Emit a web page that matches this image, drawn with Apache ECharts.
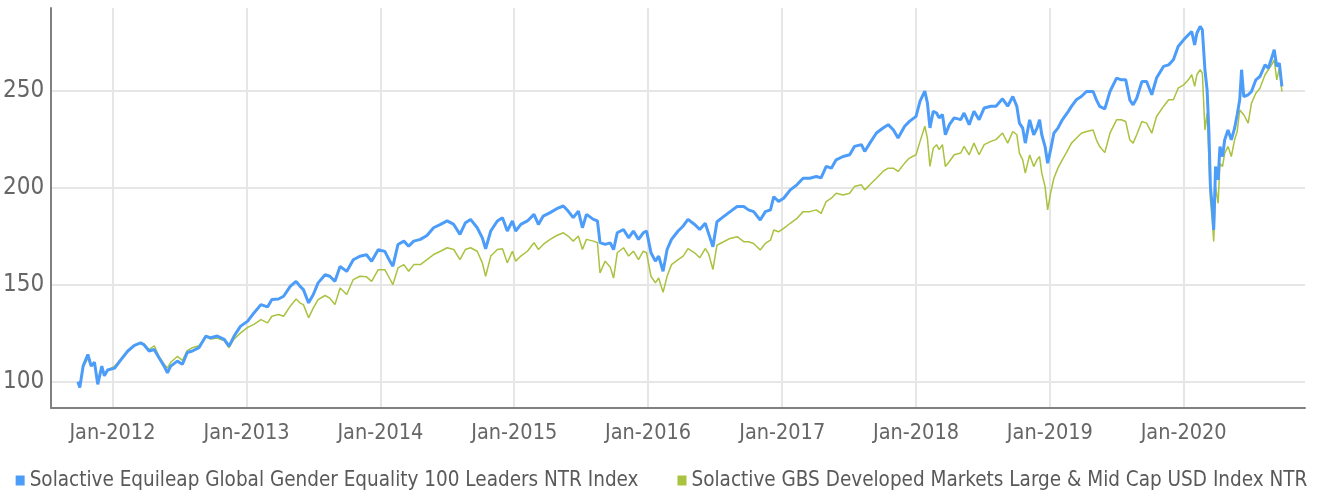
<!DOCTYPE html>
<html lang="en" style="height: 100%">
  <head>
    <meta charset="utf-8" />
    <style>
      html, body { margin: 0; padding: 0; background: #fff; }
      #container { width: 1323px; height: 493px; }
    </style>
  </head>
  <body>
    <div id="container"></div>
    <script type="text/javascript" src="https://cdn.jsdelivr.net/npm/echarts@6/dist/echarts.min.js"></script>
    <script type="text/javascript">
      var seriesNames = [
        "Solactive Equileap Global Gender Equality 100 Leaders NTR Index",
        "Solactive GBS Developed Markets Large & Mid Cap USD Index NTR",
      ];

      var dates = [
        "2011-09-29", "2011-10-04", "2011-10-13", "2011-10-26", "2011-11-04", "2011-11-13", "2011-11-22", "2011-12-03", "2011-12-10", "2011-12-19",
        "2012-01-07", "2012-01-25", "2012-02-12", "2012-03-01", "2012-03-18", "2012-03-27", "2012-04-10", "2012-04-24", "2012-05-07", "2012-05-21",
        "2012-05-30", "2012-06-08", "2012-06-26", "2012-07-10", "2012-07-23", "2012-08-06", "2012-08-24", "2012-09-12", "2012-09-25", "2012-10-13",
        "2012-11-01", "2012-11-14", "2012-11-28", "2012-12-15", "2013-01-04", "2013-01-21", "2013-02-09", "2013-02-27", "2013-03-11", "2013-03-29",
        "2013-04-12", "2013-04-30", "2013-05-16", "2013-05-27", "2013-06-05", "2013-06-19", "2013-07-02", "2013-07-15", "2013-08-03", "2013-08-16",
        "2013-08-30", "2013-09-13", "2013-10-01", "2013-10-19", "2013-11-06", "2013-11-24", "2013-12-08", "2013-12-26", "2014-01-13", "2014-01-27",
        "2014-02-04", "2014-02-18", "2014-03-06", "2014-03-19", "2014-04-02", "2014-04-20", "2014-05-08", "2014-05-26", "2014-06-14", "2014-07-02",
        "2014-07-20", "2014-08-06", "2014-08-21", "2014-09-04", "2014-09-22", "2014-10-06", "2014-10-15", "2014-10-29", "2014-11-16", "2014-11-30",
        "2014-12-13", "2014-12-27", "2015-01-05", "2015-01-19", "2015-02-06", "2015-02-24", "2015-03-08", "2015-03-21", "2015-04-09", "2015-04-27",
        "2015-05-15", "2015-05-28", "2015-06-11", "2015-06-25", "2015-07-06", "2015-07-17", "2015-08-05", "2015-08-16", "2015-08-23", "2015-09-06",
        "2015-09-20", "2015-09-29", "2015-10-09", "2015-10-26", "2015-11-09", "2015-11-22", "2015-12-06", "2015-12-19", "2015-12-28", "2016-01-09",
        "2016-01-21", "2016-01-30", "2016-02-11", "2016-02-22", "2016-03-05", "2016-03-23", "2016-04-06", "2016-04-19", "2016-05-07", "2016-05-21",
        "2016-06-05", "2016-06-14", "2016-06-26", "2016-07-07", "2016-07-25", "2016-08-12", "2016-08-31", "2016-09-18", "2016-10-01", "2016-10-15",
        "2016-11-02", "2016-11-16", "2016-11-30", "2016-12-09", "2016-12-22", "2017-01-05", "2017-01-23", "2017-02-10", "2017-02-27", "2017-03-17",
        "2017-04-04", "2017-04-17", "2017-05-01", "2017-05-15", "2017-05-28", "2017-06-16", "2017-07-04", "2017-07-17", "2017-08-05", "2017-08-14",
        "2017-08-28", "2017-09-15", "2017-10-03", "2017-10-17", "2017-10-31", "2017-11-13", "2017-12-01", "2017-12-14", "2018-01-01", "2018-01-12",
        "2018-01-25", "2018-02-01", "2018-02-08", "2018-02-17", "2018-02-26", "2018-03-05", "2018-03-14", "2018-03-22", "2018-04-02", "2018-04-15",
        "2018-05-03", "2018-05-12", "2018-05-26", "2018-06-08", "2018-06-22", "2018-07-06", "2018-07-24", "2018-08-07", "2018-08-25", "2018-09-08",
        "2018-09-22", "2018-10-03", "2018-10-10", "2018-10-19", "2018-10-26", "2018-11-07", "2018-11-18", "2018-11-27", "2018-12-04", "2018-12-10",
        "2018-12-19", "2018-12-26", "2019-01-03", "2019-01-12", "2019-01-23", "2019-02-04", "2019-02-17", "2019-03-01", "2019-03-14", "2019-03-28",
        "2019-04-11", "2019-04-29", "2019-05-08", "2019-05-17", "2019-05-31", "2019-06-14", "2019-07-02", "2019-07-15", "2019-07-27", "2019-08-07",
        "2019-08-16", "2019-08-26", "2019-09-09", "2019-09-22", "2019-10-06", "2019-10-19", "2019-11-07", "2019-11-21", "2019-12-04", "2019-12-17",
        "2020-01-01", "2020-01-14", "2020-01-23", "2020-01-31", "2020-02-06", "2020-02-15", "2020-02-21", "2020-02-28", "2020-03-05", "2020-03-10",
        "2020-03-14", "2020-03-19", "2020-03-23", "2020-03-28", "2020-04-04", "2020-04-09", "2020-04-16", "2020-04-22", "2020-05-01", "2020-05-10",
        "2020-05-19", "2020-05-26", "2020-06-02", "2020-06-07", "2020-06-13", "2020-06-25", "2020-07-04", "2020-07-16", "2020-07-27", "2020-08-10",
        "2020-08-19", "2020-08-28", "2020-09-04", "2020-09-11", "2020-09-18", "2020-09-25",
      ];

      // Equileap Gender Equality index (blue)
      var equileap = [
        100, 97, 108, 114, 108, 110, 98.6, 108, 103, 106,
        107, 111.5, 115.8, 118.7, 120, 119, 115.8, 116.6, 112.3, 108,
        104.6, 108, 110.6, 109, 115, 115.8, 117.5, 123.5, 122.6, 123.5,
        121.8, 118.3, 123.5, 128.5, 131.2, 135.4, 139.7, 138.5, 142.3, 142.6,
        144, 149.1, 151.7, 149.1, 147.4, 140.6, 144.9, 150.9, 155.1, 154.3,
        151.7, 159.4, 156.8, 162.8, 164.6, 165.4, 162, 168, 167.1, 162,
        159.5, 170.7, 172.4, 169.8, 172.4, 173.3, 175.3, 179.3, 181, 182.8,
        181, 175.9, 181.9, 183.6, 179.3, 174.1, 168.5, 177.6, 182.8, 184.5,
        177.6, 182.8, 177.6, 181, 182.8, 186.2, 181, 185.3, 187.1, 189.1,
        190.5, 187.9, 184.5, 187.9, 179.3, 186.2, 183.6, 182.8, 171.6, 170.7,
        171.5, 168, 176.7, 178.4, 174.1, 177.6, 173.3, 176.7, 177.6, 166.4,
        162.1, 164.7, 156.9, 168.1, 173.3, 177.6, 180.2, 183.6, 181, 178.4,
        181.6, 176.4, 169.5, 182.4, 185, 187.6, 190.2, 190.2, 188.5, 187.6,
        183.3, 187.6, 188.5, 195.3, 192.8, 194.5, 198.8, 201.4, 204.8, 204.8,
        205.7, 205, 210.9, 210, 214.3, 216, 216.9, 221.2, 222.1, 218.6,
        222.9, 228.1, 230.7, 232.4, 229.8, 225.5, 231.6, 234.1, 236.7, 244.5,
        249.7, 243.6, 230.7, 239.3, 238.4, 235.9, 237.6, 227.2, 232.4, 235.9,
        235, 238.4, 232.4, 239.3, 235, 241, 241.9, 241.9, 245.7, 241.9,
        246.9, 241.8, 233.2, 230.6, 222.9, 234.9, 227.2, 230.6, 234.9, 227.2,
        221.1, 212.5, 219.4, 228, 230.6, 234.9, 238.3, 241.8, 245.2, 246.9,
        249.5, 249.5, 245.2, 241.8, 240.5, 249.5, 256.4, 255.5, 255.5, 245.2,
        242.6, 246, 254.6, 254.6, 247.8, 256.4, 262.4, 263.2, 265.8, 272.7,
        276.1, 278.7, 280.4, 273.5, 279.5, 283, 281.3, 260.7, 250.3, 228,
        200.5, 190.2, 178.2, 210.8, 204, 221.1, 216, 224.6, 229.7, 224.6,
        230.6, 237.5, 245.2, 260.7, 246.9, 247.8, 249.5, 255.5, 257.2, 263.2,
        261.5, 266.7, 271, 262.4, 264.1, 252.1,
      ];

      // GBS Developed Markets benchmark (green)
      var benchmark = [
        100, 97.5, 107.5, 112, 108, 109.5, 99.5, 107.5, 104, 106,
        108, 112, 116, 118.5, 120, 119.5, 116.5, 118.5, 113, 109,
        107, 110, 113, 111, 116, 117.5, 118.5, 123, 122, 122.5,
        121, 117.5, 122, 125, 128, 129.5, 132, 130.3, 133.7, 134.6,
        133.7, 138.9, 142.6, 140.5, 139.7, 132.9, 138, 142.3, 144.4, 143,
        139.7, 148.3, 144.9, 152.6, 154.3, 154, 151.7, 157.7, 157.7, 152.9,
        150, 158.6, 160.3, 156.9, 160.3, 160.3, 162.9, 165.5, 167.2, 169,
        168.1, 162.9, 168.1, 169, 167.2, 161.2, 154.3, 164.7, 168.1, 168.5,
        161.2, 167.2, 162.1, 164.7, 167.2, 171.6, 168.1, 170.7, 173.3, 175.3,
        176.7, 175, 172.4, 175, 168.1, 173.3, 172.4, 171.6, 156, 162.1,
        159, 153.4, 166.4, 169, 164.7, 167.2, 162.9, 167.2, 166.4, 154.3,
        150.9, 153.4, 146, 154.3, 160.3, 162.9, 164.7, 168.5, 166.4, 163.8,
        168.6, 166, 157.8, 170.3, 172.1, 173.8, 174.7, 172.1, 172.1, 171.2,
        167.8, 171.2, 172.9, 178.1, 177.2, 179, 181.6, 184.1, 187.6, 187.6,
        188.5, 186.7, 192.8, 194.5, 197.1, 196.2, 197.1, 200.5, 201.4, 198.8,
        201.4, 204.8, 208.3, 210, 210, 208.3, 212.6, 215.2, 216.9, 223.8,
        231.6, 225.5, 210.9, 220.3, 222.1, 219.5, 222.1, 210.9, 213.4, 216.9,
        217.8, 221.2, 216.9, 222.9, 216.9, 222.1, 223.8, 224.7, 228.1, 222.9,
        228.9, 227.2, 217.7, 214.3, 207.4, 216.8, 210.8, 214.3, 216, 207.4,
        200.5, 188.5, 197.1, 204.8, 210, 214.3, 218.6, 222.9, 225.4, 228,
        228.9, 229.7, 224.6, 221.1, 218, 228, 234.9, 234.9, 234, 224.6,
        222.9, 227.2, 234, 233.2, 228, 236.6, 241.8, 245.2, 245.2, 251.2,
        252.9, 255.5, 258.1, 252.1, 258.1, 260.7, 258.9, 229.7, 238.3, 214.3,
        193.6, 183.3, 172.2, 200.5, 191.9, 212.5, 210.8, 217.7, 221.1, 216,
        224.6, 228.9, 240, 240.9, 237.5, 233.2, 243.5, 248.6, 251.2, 258.1,
        260.7, 263.2, 265.8, 255.5, 261.5, 249.5,
      ];

      var yTicks = [100, 150, 200, 250];

      function pairs(values) {
        return dates.map(function (d, i) {
          return [d, values[i]];
        });
      }

      var font = "'Liberation Sans Narrow', 'DejaVu Sans Condensed', 'Roboto', sans-serif";
      var gridGrey = "#e6e6e6";
      var clear = "rgba(0,0,0,0)";

      var dom = document.getElementById("container");
      var myChart = echarts.init(dom, null, { renderer: "canvas" });

      var option = {
        animation: false,
        backgroundColor: "#fff",
        grid: { left: 50, right: 18, top: 8, bottom: 85, containLabel: false },
        legend: {
          data: [seriesNames[0], seriesNames[1]],
          top: 465,
          left: "center",
          icon: "rect",
          itemWidth: 9,
          itemHeight: 10,
          itemGap: 39,
          textStyle: { fontFamily: font, fontSize: 20.5, color: "#595959" },
        },
        xAxis: {
          type: "time",
          min: "2011-07-18",
          max: "2020-11-27",
          minInterval: 365 * 24 * 3600 * 1000,
          maxInterval: 366 * 24 * 3600 * 1000,
          axisLine: { lineStyle: { color: "#808080", width: 2 } },
          axisTick: { show: false },
          splitLine: {
            show: true,
            lineStyle: {
              width: 2,
              color: [clear, gridGrey, gridGrey, gridGrey, gridGrey, gridGrey, gridGrey, gridGrey, gridGrey, gridGrey, clear],
            },
          },
          axisLabel: {
            fontFamily: font,
            fontSize: 21.5,
            color: "#666",
            margin: 14,
            showMinLabel: false,
            showMaxLabel: false,
            hideOverlap: false,
            formatter: function (value) {
              var d = new Date(value);
              if (d.getMonth() === 0 && d.getDate() === 1) {
                return "Jan-" + d.getFullYear();
              }
              return "";
            },
          },
        },
        yAxis: {
          type: "value",
          min: 86.44,
          max: 292.5,
          axisLine: { show: true, lineStyle: { color: "#808080", width: 2 } },
          axisTick: { show: false },
          splitLine: {
            show: true,
            lineStyle: { width: 2, color: [clear, gridGrey, gridGrey, gridGrey, gridGrey, clear] },
          },
          axisLabel: {
            fontFamily: font,
            fontSize: 24,
            color: "#666",
            margin: 7,
            showMinLabel: false,
            showMaxLabel: false,
            formatter: function (v) {
              return yTicks.indexOf(v) >= 0 ? String(v) : "";
            },
          },
        },
        series: [
          {
            name: seriesNames[1],
            type: "line",
            data: pairs(benchmark),
            showSymbol: false,
            symbol: "none",
            itemStyle: { color: "#a9c23f" },
            lineStyle: { color: "#a9c23f", width: 1.5 },
          },
          {
            name: seriesNames[0],
            type: "line",
            data: pairs(equileap),
            showSymbol: false,
            symbol: "none",
            itemStyle: { color: "#4c9cfa" },
            lineStyle: { color: "#4c9cfa", width: 3 },
          },
        ],
      };

      myChart.setOption(option);
      window.addEventListener("resize", myChart.resize);
    </script>
  </body>
</html>
